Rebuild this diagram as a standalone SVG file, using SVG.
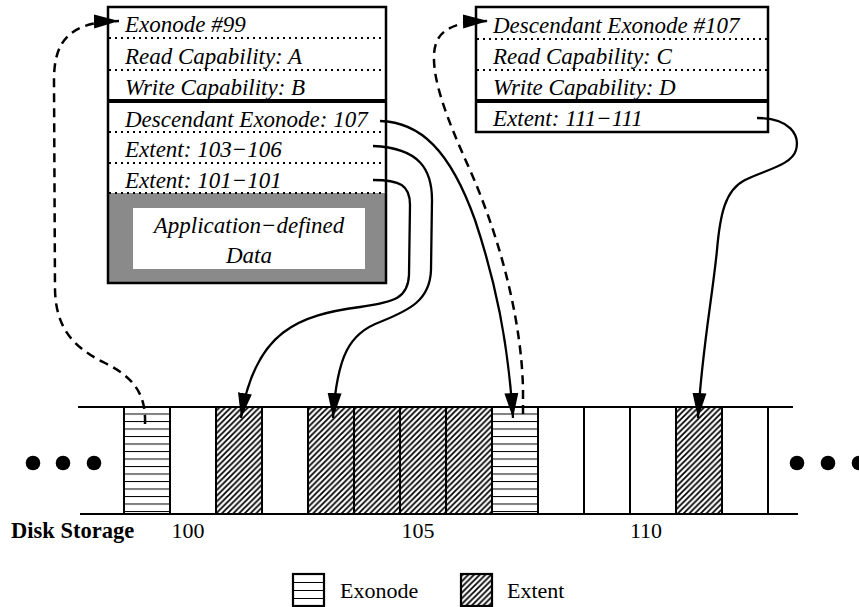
<svg xmlns="http://www.w3.org/2000/svg" width="859" height="607" viewBox="0 0 859 607">
<style>
.t{font-family:"Liberation Serif","Times New Roman",serif;font-style:italic;font-size:23px;fill:#000}
.r{font-family:"Liberation Serif","Times New Roman",serif;font-size:22px;fill:#000}
.b{font-family:"Liberation Serif","Times New Roman",serif;font-weight:bold;font-size:22.5px;fill:#000}
.box{fill:none;stroke:#000;stroke-width:2.5}
.dot{stroke:#000;stroke-width:2;stroke-dasharray:2 4;fill:none}
.thick{stroke:#000;stroke-width:4}
.disk{stroke:#000;stroke-width:2;fill:none}
.cell{stroke:#000;stroke-width:2}
.conn{fill:none;stroke:#000;stroke-width:2.3}
.dash{fill:none;stroke:#000;stroke-width:2.5;stroke-dasharray:9 6}
</style>
<defs>
<marker id="ah" markerUnits="userSpaceOnUse" markerWidth="26" markerHeight="16" refX="25" refY="7" orient="auto" viewBox="0 0 26 14">
<path d="M0,0 L25,7 L0,14 Z" fill="#000"/>
</marker>
<pattern id="hatchH" patternUnits="userSpaceOnUse" x="0" y="413.5" width="10" height="7.5">
<line x1="0" y1="0" x2="10" y2="0" stroke="#000" stroke-width="2"/>
</pattern>
<pattern id="hatchL" patternUnits="userSpaceOnUse" x="0" y="582" width="10" height="8">
<line x1="0" y1="0" x2="10" y2="0" stroke="#000" stroke-width="2"/>
</pattern>
<pattern id="hatchD" patternUnits="userSpaceOnUse" width="5.7" height="5.7">
<path d="M-1,1 L1,-1 M0,5.7 L5.7,0 M4.7,6.7 L6.7,4.7" stroke="#000" stroke-width="1.8"/>
</pattern>
</defs>

<g id="exonode99">
<rect x="108" y="193" width="278" height="90" fill="#8a8a8a"/>
<rect x="133" y="208" width="232" height="61" fill="#fff"/>
<rect x="108" y="7" width="278" height="276" class="box"/>
<line x1="109" y1="38" x2="385" y2="38" class="dot"/>
<line x1="109" y1="70" x2="385" y2="70" class="dot"/>
<line x1="108" y1="101" x2="386" y2="101" class="thick"/>
<line x1="109" y1="132" x2="385" y2="132" class="dot"/>
<line x1="109" y1="163" x2="385" y2="163" class="dot"/>
<line x1="109" y1="193" x2="385" y2="193" class="dot"/>
<text class="t" x="125" y="32">Exonode #99</text>
<text class="t" x="125" y="64">Read Capability: A</text>
<text class="t" x="125" y="95">Write Capability: B</text>
<text class="t" x="125" y="127">Descendant Exonode: 107</text>
<text class="t" x="125" y="157">Extent: 103−106</text>
<text class="t" x="125" y="188">Extent: 101−101</text>
<text class="t" x="249" y="233" text-anchor="middle">Application−defined</text>
<text class="t" x="249" y="263" text-anchor="middle">Data</text>
</g>

<g id="exonode107">
<rect x="476" y="7" width="292" height="125" class="box"/>
<line x1="477" y1="39" x2="767" y2="39" class="dot"/>
<line x1="477" y1="70" x2="767" y2="70" class="dot"/>
<line x1="476" y1="101" x2="768" y2="101" class="thick"/>
<text class="t" x="493" y="33">Descendant Exonode #107</text>
<text class="t" x="493" y="64">Read Capability: C</text>
<text class="t" x="493" y="95">Write Capability: D</text>
<text class="t" x="493" y="126">Extent: 111−111</text>
</g>

<g id="disk">
<rect x="124" y="407" width="46" height="107" fill="url(#hatchH)"/>
<rect x="216" y="407" width="46" height="107" fill="url(#hatchD)"/>
<rect x="308" y="407" width="184" height="107" fill="url(#hatchD)"/>
<rect x="492" y="407" width="46" height="107" fill="url(#hatchH)"/>
<rect x="676" y="407" width="46" height="107" fill="url(#hatchD)"/>
<line x1="78" y1="407" x2="793" y2="407" class="disk"/>
<line x1="80" y1="514" x2="798" y2="514" class="disk"/>
<g class="cell">
<line x1="124" y1="407" x2="124" y2="514"/>
<line x1="170" y1="407" x2="170" y2="514"/>
<line x1="216" y1="407" x2="216" y2="514"/>
<line x1="262" y1="407" x2="262" y2="514"/>
<line x1="308" y1="407" x2="308" y2="514"/>
<line x1="354" y1="407" x2="354" y2="514"/>
<line x1="400" y1="407" x2="400" y2="514"/>
<line x1="446" y1="407" x2="446" y2="514"/>
<line x1="492" y1="407" x2="492" y2="514"/>
<line x1="538" y1="407" x2="538" y2="514"/>
<line x1="584" y1="407" x2="584" y2="514"/>
<line x1="630" y1="407" x2="630" y2="514"/>
<line x1="676" y1="407" x2="676" y2="514"/>
<line x1="722" y1="407" x2="722" y2="514"/>
<line x1="768" y1="407" x2="768" y2="514"/>
</g>
<circle cx="33" cy="463" r="7.3"/>
<circle cx="63" cy="463" r="7.3"/>
<circle cx="94" cy="463" r="7.3"/>
<circle cx="797" cy="463" r="7.3"/>
<circle cx="828" cy="463" r="7.3"/>
<circle cx="859" cy="463" r="7.3"/>
<text class="b" x="11" y="538">Disk Storage</text>
<text class="r" x="188" y="538" text-anchor="middle">100</text>
<text class="r" x="418" y="538" text-anchor="middle">105</text>
<text class="r" x="646" y="538" text-anchor="middle">110</text>
</g>

<g id="legend">
<rect x="293" y="574" width="31" height="32" fill="url(#hatchL)" stroke="#000" stroke-width="2.2"/>
<text class="r" x="340" y="598">Exonode</text>
<rect x="461" y="574" width="31" height="32" fill="url(#hatchD)" stroke="#000" stroke-width="2.2"/>
<text class="r" x="507" y="598">Extent</text>
</g>

<g id="connectors">
<path class="dash" d="M145,424 C146,395 135,378 105,363 C70,346 56,325 55,290 L54,80 C54,40 70,22 119,21" marker-end="url(#ah)"/>
<path class="dash" d="M523,414 L523,390 C522,330 505,250 470,170 C445,115 433,80 434,55 C435,35 445,22 488,21" marker-end="url(#ah)"/>
<path class="conn" d="M380,121 C420,122 450,150 475,220 C495,280 508,340 513,418" marker-end="url(#ah)"/>
<path class="conn" d="M373,146 C420,148 432,170 432,200 L431,270 C430,300 410,310 380,322 C350,333 337,355 333,418" marker-end="url(#ah)"/>
<path class="conn" d="M373,180 C400,180 410,185 410,205 L409,275 C408,298 395,302 360,307 C300,315 255,330 241,418" marker-end="url(#ah)"/>
<path class="conn" d="M757,118 C790,118 800,135 796,150 C792,165 765,170 745,180 C725,190 720,215 717,250 C712,300 702,350 698,418" marker-end="url(#ah)"/>
</g>
</svg>
